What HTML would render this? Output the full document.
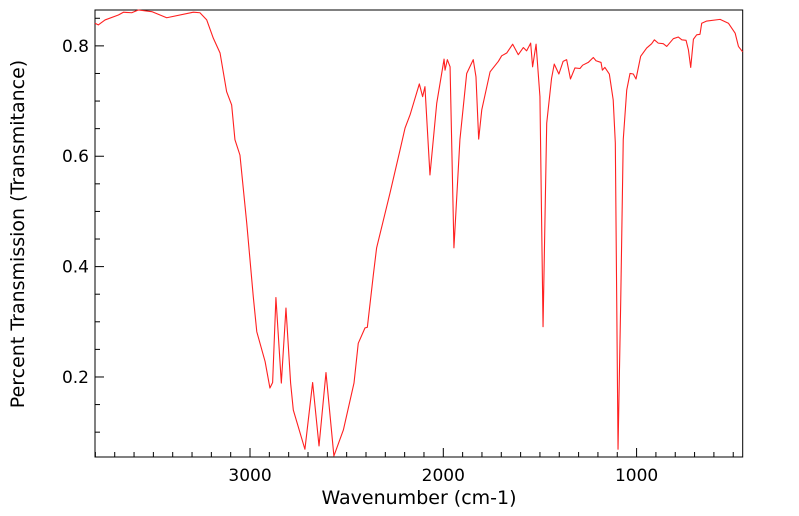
<!DOCTYPE html>
<html><head><meta charset="utf-8"><style>
html,body{margin:0;padding:0;background:#fff;}
svg{display:block;font-family:"DejaVu Sans","Liberation Sans",sans-serif;}
</style></head><body>
<svg id="chart" width="799" height="516" viewBox="0 0 799 516" xmlns="http://www.w3.org/2000/svg">
<rect x="95" y="10" width="647.7" height="447" fill="none" stroke="#000" stroke-width="1"/>
<g id="ticks"></g>
<path id="spectrum" fill="none" stroke="#ff2020" stroke-width="1.1" stroke-linejoin="round"/>
<text x="419" y="504" font-size="19" text-anchor="middle">Wavenumber (cm-1)</text>
<text transform="translate(24,234) rotate(-90)" font-size="19" text-anchor="middle">Percent Transmission (Transmitance)</text>
</svg>
<script>
const wavenumbers=[3802,3785,3750,3681,3655,3612,3578,3508,3431,3293,3259,3224,3190,3155,3121,3095,3078,3052,3017,2983,2965,2922,2897,2883,2866,2838,2814,2790,2776,2716,2676,2643,2607,2566,2517,2462,2440,2405,2393,2362,2345,2276,2224,2198,2172,2124,2107,2095,2069,2034,1996,1991,1979,1965,1945,1914,1879,1845,1831,1817,1801,1758,1715,1698,1672,1641,1612,1586,1569,1548,1538,1520,1500,1484,1465,1440,1426,1402,1380,1362,1342,1319,1293,1279,1250,1224,1210,1184,1177,1164,1141,1121,1110,1096,1082,1069,1051,1034,1017,1003,979,948,922,908,888,862,844,810,784,766,744,732,720,706,689,672,663,637,568,525,490,473,451];
const transmittance=[0.841,0.838,0.847,0.856,0.861,0.860,0.865,0.862,0.851,0.861,0.860,0.847,0.814,0.787,0.717,0.693,0.630,0.602,0.479,0.345,0.282,0.228,0.180,0.190,0.344,0.189,0.325,0.189,0.140,0.069,0.190,0.075,0.208,0.057,0.104,0.189,0.261,0.289,0.290,0.385,0.434,0.533,0.611,0.651,0.675,0.731,0.708,0.726,0.566,0.696,0.776,0.756,0.775,0.762,0.434,0.630,0.750,0.775,0.744,0.631,0.684,0.753,0.772,0.782,0.787,0.803,0.784,0.797,0.791,0.805,0.762,0.803,0.708,0.291,0.660,0.741,0.767,0.749,0.772,0.775,0.740,0.760,0.759,0.765,0.770,0.779,0.773,0.770,0.756,0.761,0.749,0.702,0.624,0.069,0.339,0.630,0.720,0.750,0.749,0.740,0.781,0.796,0.804,0.811,0.805,0.804,0.799,0.813,0.816,0.811,0.810,0.793,0.761,0.812,0.820,0.821,0.841,0.845,0.848,0.841,0.823,0.799,0.789];
const xTickLabels=[3000,2000,1000];
const yTickLabels=[0.2,0.4,0.6,0.8];
const L=95,R=742.7,T=10,B=457;
const xMin=3802,xMax=451,yMin=0.055,yMax=0.865;
function xs(w){return L+(xMin-w)/(xMin-xMax)*(R-L);}
function ys(v){return B-(v-yMin)/(yMax-yMin)*(B-T);}
const NS="http://www.w3.org/2000/svg";
const g=document.getElementById('ticks');
function line(x1,y1,x2,y2){const l=document.createElementNS(NS,'line');l.setAttribute('x1',x1);l.setAttribute('y1',y1);l.setAttribute('x2',x2);l.setAttribute('y2',y2);l.setAttribute('stroke','#000');l.setAttribute('stroke-width','1');


g.appendChild(l);}
function text(x,y,s,anchor){const t=document.createElementNS(NS,'text');t.setAttribute('x',x);t.setAttribute('y',y);t.setAttribute('font-size','17');t.setAttribute('text-anchor',anchor);t.textContent=s;


g.appendChild(t);}
for(let w=3800;w>=500;w-=100){const x=xs(w);if(x<L||x>R)continue;const major=w%1000===0;line(x,B,x,B-(major?9:5));}
xTickLabels.forEach(w=>text(xs(w),481,String(w),'middle'));
for(let v=0.1;v<=0.851;v+=0.05){const y=ys(v);const major=Math.abs((v*10)%2)<0.01||Math.abs((v*10)%2-2)<0.01;line(L,y,L+(major?9:5),y);}
yTickLabels.forEach(v=>text(89,ys(v)+6,v.toFixed(1),'end'));
let d='';
wavenumbers.forEach((w,i)=>{d+=(i?'L':'M')+xs(w).toFixed(2)+','+ys(transmittance[i]).toFixed(2);});
document.getElementById('spectrum').setAttribute('d',d);
</script>
</body></html>
